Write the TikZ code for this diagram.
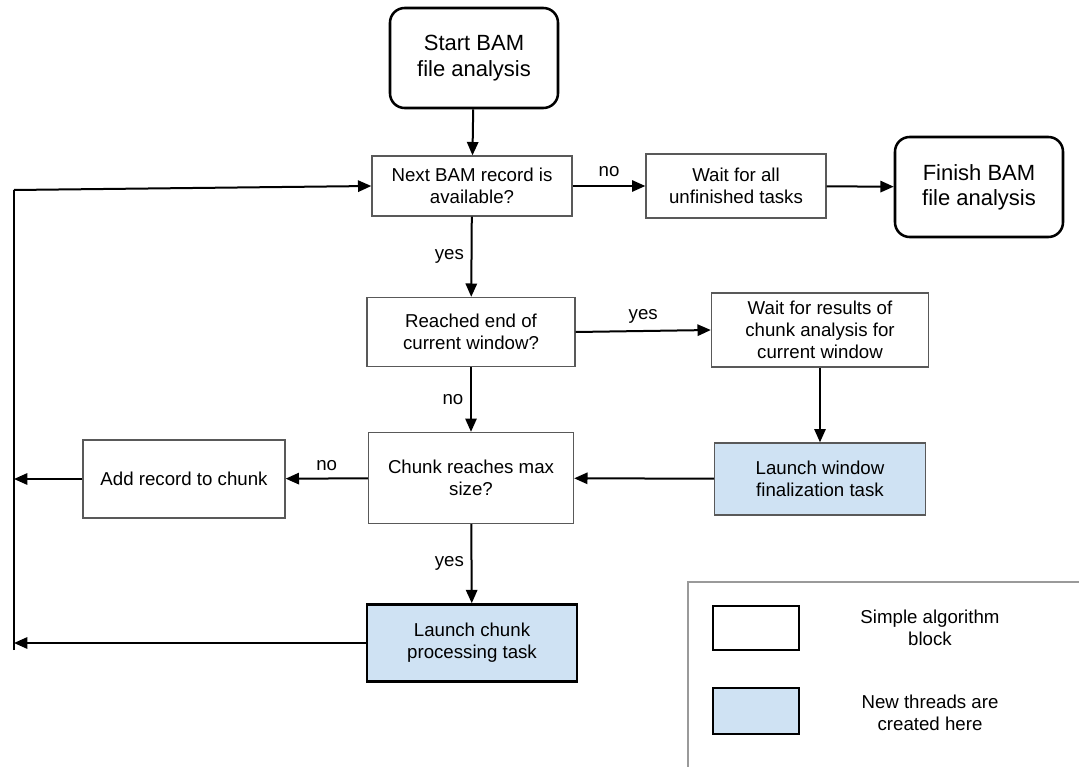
\documentclass[tikz,border=0pt]{standalone}
\usepackage{fontspec}
\setmainfont{Liberation Sans}
\usetikzlibrary{arrows.meta,calc}
\definecolor{thread}{HTML}{CFE2F3}
\definecolor{edge}{HTML}{595959}
\definecolor{frame}{HTML}{9A9A9A}
\tikzset{
  sz/.style 2 args={minimum width=#1*0.75pt, minimum height=#2*0.75pt},
  block/.style={draw=edge, line width=1pt, fill=white, align=center, inner sep=1pt,
                font=\fontsize{14}{16.5}\selectfont},
  newthread/.style={block, fill=thread},
  heavy/.style={draw=black, line width=1.9pt},
  term/.style={block, heavy, rounded corners=11pt, font=\fontsize{16.5}{19}\selectfont},
  flow/.style={-{Triangle[length=10pt,width=8.5pt]}, line width=1.5pt},
  rail/.style={line width=1.5pt},
  tag/.style={font=\fontsize{14}{16}\selectfont, inner sep=1pt},
  keytext/.style={align=center, font=\fontsize{14}{16.5}\selectfont},
}

\begin{document}
\begin{tikzpicture}[x=0.75pt,y=-0.75pt]
  \useasboundingbox (0,0) rectangle (1079,767);

  % main column and the right-hand branch
  \node[term, sz={168}{100}] (start) at (474,58) {Start BAM\\file analysis};
  \node[block, sz={200}{60}] (next) at (472,186) {Next BAM record is\\available?};
  \node[block, sz={180}{64}] (waitall) at (736,186) {Wait for all\\unfinished tasks};
  \node[term, sz={168}{100}] (finish) at (979,187) {Finish BAM\\file analysis};
  \node[block, sz={208}{69}] (reached) at (471,332) {Reached end of\\current window?};
  \node[block, sz={217}{74}] (waitres) at (820,330) {Wait for results of\\chunk analysis for\\current window};
  \node[block, sz={205}{91}] (chunkmax) at (471,478) {Chunk reaches max\\size?};
  \node[newthread, sz={211}{72}] (launchwin) at (820,479) {Launch window\\finalization task};
  \node[block, sz={202}{78}] (addrec) at (184,479) {Add record to chunk};
  \node[newthread, heavy, sz={210}{77}] (launchchunk) at (472,643) {Launch chunk\\processing task};

  % loop back on the left
  \coordinate (railtop) at (14,190);
  \coordinate (railbot) at (14,650);

  \draw[flow] (start) -- (next);
  \draw[flow] (next) -- node[tag, above=5pt] {no} (waitall);
  \draw[flow] (waitall) -- (finish);
  \draw[flow] (next) -- node[tag, left=4pt] {yes} (reached);
  \draw[flow] (reached.east) -- node[tag, above=4pt] {yes} (waitres.west);
  \draw[flow] (waitres) -- (launchwin);
  \draw[flow] (launchwin) -- (chunkmax);
  \draw[flow] (reached) -- node[tag, left=4pt] {no} (chunkmax);
  \draw[flow] (chunkmax) -- node[tag, above=4pt] {no} (addrec);
  \draw[flow] (chunkmax) -- node[tag, left=4pt] {yes} (launchchunk);
  \draw[flow] (addrec.west) -- (addrec.west -| railtop);
  \draw[flow] (launchchunk.west) -- (launchchunk.west -| railtop);
  \draw[rail] (railbot) -- (railtop);
  \draw[flow] (railtop) -- (next.west);

  % legend
  \draw[frame, line width=0.8pt] (688,790) -- (688,582) -- (1090,582);
  \node[block, heavy, line width=1.4pt, sz={86}{44}] (keyplain) at (756,628) {};
  \node[newthread, heavy, line width=1.4pt, sz={86}{46}] (keythread) at (756,711) {};
  \node[keytext] (keyplaintext) at (930,628) {Simple algorithm\\block};
  \node[keytext] (keythreadtext) at (930,713) {New threads are\\created here};
\end{tikzpicture}
\end{document}
